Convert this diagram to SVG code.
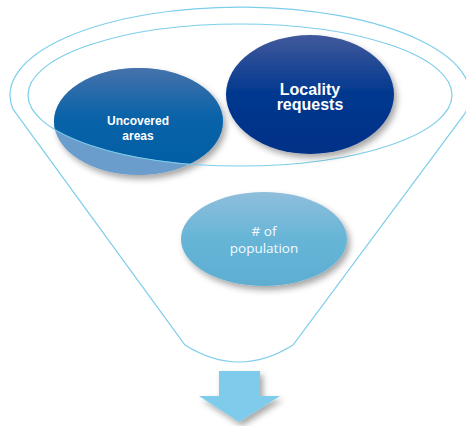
<svg xmlns="http://www.w3.org/2000/svg" width="466" height="426" viewBox="0 0 466 426">
<style>
.line{fill:none;stroke:#7dcdeb;stroke-width:1.2}
.bold{font-family:"Liberation Sans",Arial,sans-serif;font-weight:bold;fill:#ffffff;text-anchor:middle}
.reg{font-family:"Open Sans","Noto Sans",sans-serif;fill:#f4faff;text-anchor:middle}
</style>
<defs>
<filter id="sh" x="-20%" y="-20%" width="150%" height="150%">
<feDropShadow dx="3" dy="4" stdDeviation="3" flood-color="#000" flood-opacity="0.35"/>
</filter>
<linearGradient id="gU" x1="0" y1="0" x2="0" y2="1">
<stop offset="0" stop-color="#4672ab"/>
<stop offset="0.45" stop-color="#0a63a8"/>
<stop offset="1" stop-color="#005da4"/>
</linearGradient>
<linearGradient id="gL" x1="0" y1="0" x2="0" y2="1">
<stop offset="0" stop-color="#42599c"/>
<stop offset="0.5" stop-color="#00388f"/>
<stop offset="1" stop-color="#003087"/>
</linearGradient>
<linearGradient id="gP" x1="0" y1="0" x2="0" y2="1">
<stop offset="0" stop-color="#8fbedb"/>
<stop offset="0.5" stop-color="#66b5d7"/>
<stop offset="1" stop-color="#5eaed2"/>
</linearGradient>
<clipPath id="inner">
<ellipse cx="240" cy="95" rx="212" ry="71"/>
</clipPath>
</defs>
<g id="connectors">
<path class="line" d="M13,109.2 A230 88 0 1 1 465,113.3"/>
<path class="line" d="M13,109.2 L185,345 Q239,379 293,345 L465,113.3"/>
</g>
<g id="uncovered-areas">
<ellipse cx="138.5" cy="121.5" rx="84.5" ry="53.5" fill="#6a9dcb" filter="url(#sh)"/>
<ellipse cx="138.5" cy="121.5" rx="84.5" ry="53.5" fill="url(#gU)" clip-path="url(#inner)"/>
<text class="bold" font-size="12" x="138" y="125">Uncovered</text>
<text class="bold" font-size="12" x="138" y="140">areas</text>
</g>
<g id="funnel-top">
<ellipse class="line" cx="240" cy="95" rx="212" ry="71"/>
</g>
<g id="locality-requests">
<ellipse cx="310" cy="94.5" rx="84" ry="59.5" fill="url(#gL)" filter="url(#sh)"/>
<text class="bold" font-size="16" x="310" y="94.5">Locality</text>
<text class="bold" font-size="16" x="310" y="110">requests</text>
</g>
<g id="population">
<ellipse cx="264" cy="239" rx="83" ry="47" fill="url(#gP)" filter="url(#sh)"/>
<text class="reg" font-size="13.5" x="264" y="236">#&#160;of</text>
<text class="reg" font-size="13.5" x="264" y="253">population</text>
</g>
<g id="arrow">
<polygon points="219,371 260,371 260,396 280,396 239,422 199,396 219,396" fill="#7ecbeb" filter="url(#sh)"/>
</g>
</svg>
